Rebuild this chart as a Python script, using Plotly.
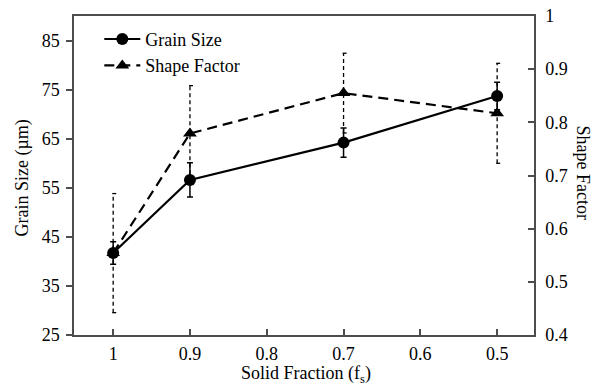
import plotly.graph_objects as go

solid_fraction = [1.0, 0.9, 0.7, 0.5]
grain_size = [41.7, 56.6, 64.2, 73.7]
grain_err = [2.3, 3.5, 3.0, 2.8]
shape_factor = [0.554, 0.779, 0.855, 0.817]
shape_err = [0.112, 0.09, 0.075, 0.094]

x_ticks = [1, 0.9, 0.8, 0.7, 0.6, 0.5]
y_ticks = [25, 35, 45, 55, 65, 75, 85]
y2_ticks = [0.4, 0.5, 0.6, 0.7, 0.8, 0.9, 1.0]
y2_labels = ["0.4", "0.5", "0.6", "0.7", "0.8", "0.9", "1"]

FONT = "Liberation Serif"
AX = "#4d4d4d"
CAP = 0.004  # half cap width in x data units

# dashed error bars for shape factor built from data
ex, ey = [], []
for x, y, e in zip(solid_fraction, shape_factor, shape_err):
    ex += [x, x, None, x - CAP, x + CAP, None, x - CAP, x + CAP, None]
    ey += [y - e, y + e, None, y + e, y + e, None, y - e, y - e, None]

fig = go.Figure()
fig.add_trace(go.Scatter(x=ex, y=ey, yaxis="y2", mode="lines",
                         line=dict(color="black", width=1.3, dash="4px,3px"),
                         showlegend=False, hoverinfo="skip"))
fig.add_trace(go.Scatter(x=solid_fraction, y=shape_factor, yaxis="y2",
                         name="Shape Factor", mode="lines+markers",
                         line=dict(color="black", width=2.2, dash="10px,6px"),
                         marker=dict(symbol="triangle-up", size=12, color="black")))
fig.add_trace(go.Scatter(x=solid_fraction, y=grain_size, name="Grain Size",
                         mode="lines+markers",
                         line=dict(color="black", width=2.2),
                         marker=dict(symbol="circle", size=12, color="black"),
                         error_y=dict(type="data", array=grain_err, color="black",
                                      thickness=1.5, width=3)))

fig.update_layout(
    width=607, height=388,
    margin=dict(l=74, r=73, t=16, b=53, autoexpand=False),
    paper_bgcolor="white", plot_bgcolor="white",
    font=dict(family=FONT, size=18, color="black"),
    showlegend=True,
    legend=dict(x=0.055, y=0.985, xanchor="left", yanchor="top",
                traceorder="reversed", bgcolor="rgba(0,0,0,0)",
                font=dict(size=18), tracegroupgap=0, itemwidth=36),
    xaxis=dict(range=[1.051, 0.452], tickvals=x_ticks,
               ticktext=[("%g" % v) for v in x_ticks], automargin=False,
               ticks="inside", ticklen=6, tickcolor=AX, tickwidth=1.5,
               showline=True, linecolor=AX, linewidth=1.5, mirror=True,
               showgrid=False, zeroline=False, ticklabelstandoff=2),
    yaxis=dict(range=[25, 90], tickvals=y_ticks, automargin=False,
               ticks="outside", ticklen=6, tickcolor=AX, tickwidth=1.5,
               showline=True, linecolor=AX, linewidth=1.5,
               showgrid=False, zeroline=False, ticklabelstandoff=3),
    yaxis2=dict(range=[0.4, 1.0], tickvals=y2_ticks, ticktext=y2_labels,
                overlaying="y", side="right", automargin=False,
                ticks="inside", ticklen=6, tickcolor=AX, tickwidth=1.5,
                showline=True, linecolor=AX, linewidth=1.5,
                showgrid=False, zeroline=False, ticklabelstandoff=6),
)
fig.add_annotation(text="Grain Size (µm)", xref="paper", yref="paper",
                   x=0, xshift=-52, y=0.5, yshift=-3, textangle=-90,
                   xanchor="center", yanchor="middle", showarrow=False,
                   font=dict(size=18))
fig.add_annotation(text="Solid Fraction (f<sub>s</sub>)", xref="paper", yref="paper",
                   x=0.5, xshift=2, y=0, yshift=-39, xanchor="center",
                   yanchor="middle", showarrow=False, font=dict(size=18))
fig.add_annotation(text="Shape Factor", xref="paper", yref="paper",
                   x=1, xshift=49, y=0.5, yshift=3, textangle=90,
                   xanchor="center", yanchor="middle", showarrow=False,
                   font=dict(size=18))

fig.write_html("out.html", config={"displayModeBar": False},
               post_script="document.body.style.margin='0px';")
